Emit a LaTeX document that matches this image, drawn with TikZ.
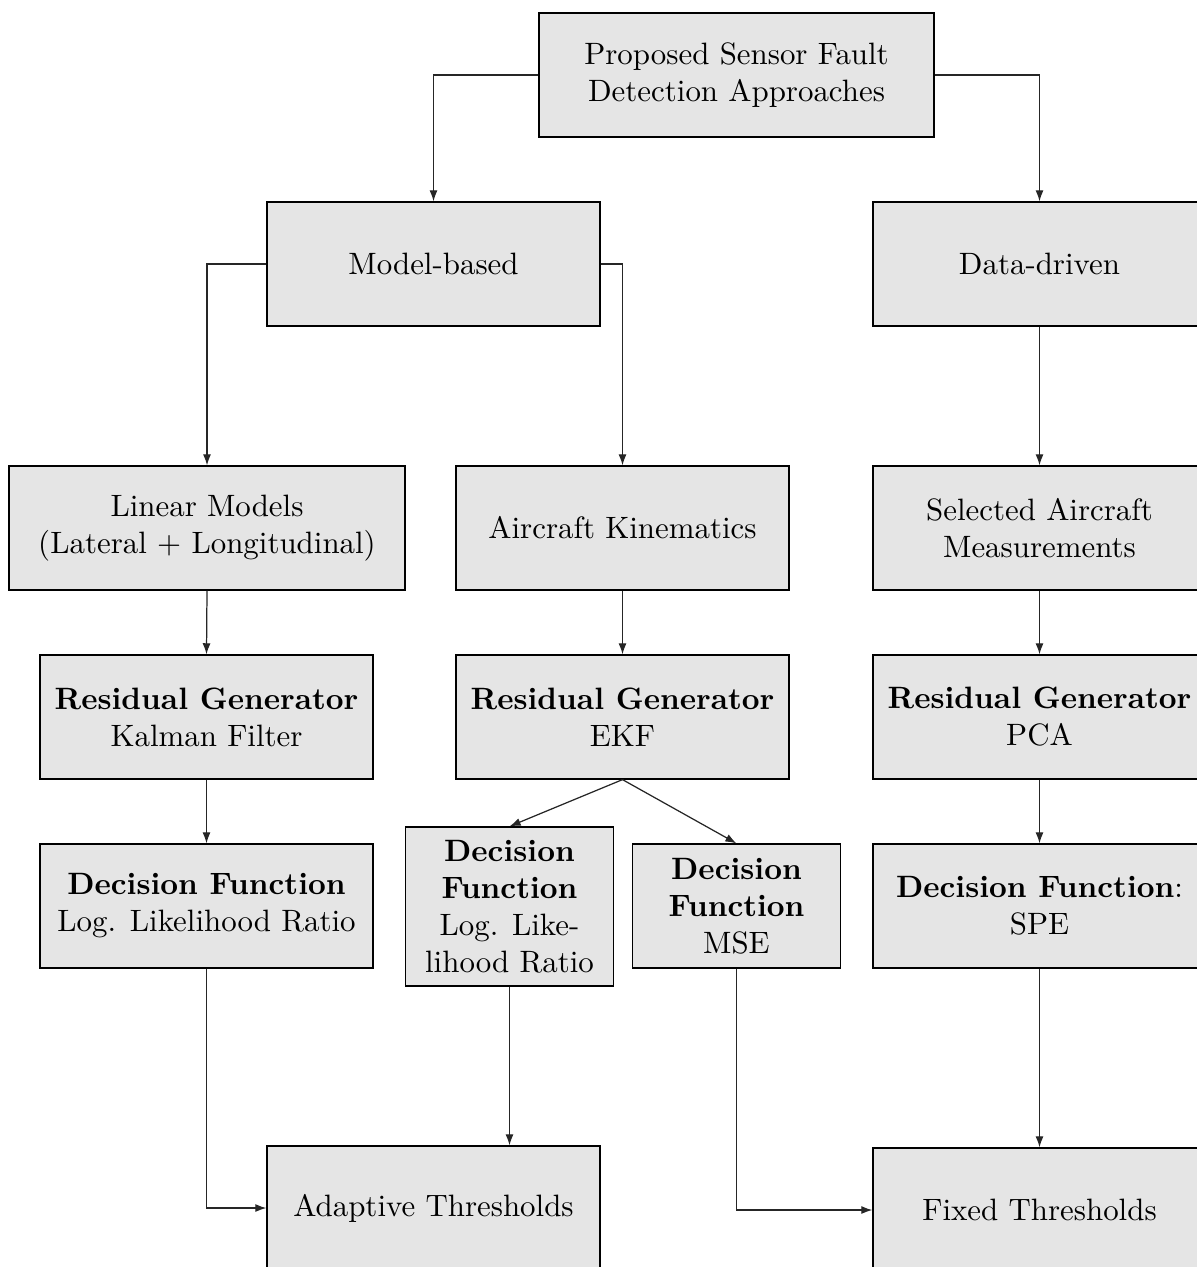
\documentclass[tikz,border=0pt]{standalone}
\usetikzlibrary{arrows.meta}
\begin{document}
\begin{tikzpicture}[x=0.3236pt,y=-0.3236pt,
  box/.style={draw=black, fill=gray!20, line width=0.4pt, align=center,
    minimum width=333*0.3236pt, minimum height=124*0.3236pt, inner sep=2pt},
  narrow/.style={box, minimum width=208*0.3236pt},
  conn/.style={draw=black!85, line width=0.4pt, -{Latex[length=3.6pt,width=2.6pt]}},
  every node/.style={font=\normalsize}]
\clip (0,0) rectangle (1197,1267);
\useasboundingbox (0,0) rectangle (1197,1267);

% top level
\node[box, minimum width=395*0.3236pt] (root) at (736.5,75) {Proposed Sensor Fault\\Detection Approaches};

% approach families
\node[box] (model) at (433.5,264) {Model-based};
\node[box] (data)  at (1039.5,264) {Data-driven};

% inputs
\node[box, minimum width=396*0.3236pt] (lin) at (207,528) {Linear Models\\(Lateral + Longitudinal)};
\node[box] (kin) at (622.5,528) {Aircraft Kinematics};
\node[box] (meas) at (1039.5,528) {Selected Aircraft\\Measurements};

% residual generators
\node[box] (kf)  at (206.5,717) {\textbf{Residual Generator}\\Kalman Filter};
\node[box] (ekf) at (622.5,717) {\textbf{Residual Generator}\\EKF};
\node[box] (pca) at (1039.5,717) {\textbf{Residual Generator}\\PCA};

% decision functions
\node[box] (dl) at (206.5,906) {\textbf{Decision Function}\\Log. Likelihood Ratio};
\node[narrow, minimum height=159*0.3236pt] (dm) at (509.5,906.5) {\textbf{Decision}\\\textbf{Function}\\Log. Like-\\lihood Ratio};
\node[narrow] (dmse) at (736.5,906) {\textbf{Decision}\\\textbf{Function}\\MSE};
\node[box] (spe) at (1039.5,906) {\textbf{Decision Function}:\\SPE};

% thresholds
\node[box] (adapt) at (433.5,1208) {Adaptive Thresholds};
\node[box] (fixed) at (1039.5,1210) {Fixed Thresholds};

% connectors
\draw[conn] (root.west) -| (model.north);
\draw[conn] (root.east) -| (data.north);
\draw[conn] (model.west) -| (lin.north);
\draw[conn] (model.east) -| (kin.north);
\draw[conn] (data) -- (meas);
\draw[conn] (lin.south) -- (kf.north);
\draw[conn] (kin) -- (ekf);
\draw[conn] (meas) -- (pca);
\draw[conn] (kf) -- (dl);
\draw[conn] (pca) -- (spe);
\draw[conn] (ekf.south) -- (dm.north);
\draw[conn] (ekf.south) -- (dmse.north);
\draw[conn] (dl.south) |- (adapt.west);
\draw[conn] (dm.south) -- (dm.south |- adapt.north);
\draw[conn] (dmse.south) |- (fixed.west);
\draw[conn] (spe) -- (fixed);
\end{tikzpicture}
\end{document}
